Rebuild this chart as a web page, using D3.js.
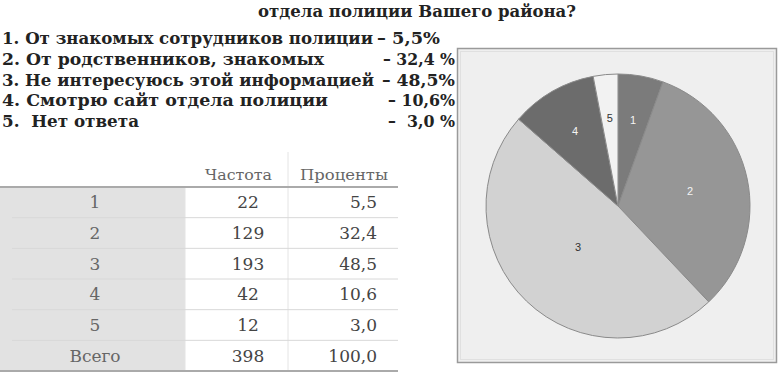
<!DOCTYPE html>
<html><head><meta charset="utf-8">
<script src="https://cdn.jsdelivr.net/npm/d3@7"></script>
<style>body{margin:0;background:#fff;}svg{display:block;}text{white-space:pre;}</style>
</head><body>
<svg id="c" width="779" height="375"></svg>
<script>
const title = "отдела полиции Вашего района?";
const categories = ["1", "2", "3", "4", "5"];
const answers = ["1. От знакомых сотрудников полиции", "2. От родственников, знакомых", "3. Не интересуюсь этой информацией", "4. Смотрю сайт отдела полиции", "5.  Нет ответа"];
const answerPct = ["– 5,5%", "– 32,4 %", "– 48,5%", "– 10,6%", "–  3,0 %"];
const frequencies = [22, 129, 193, 42, 12];
const percents = ["5,5", "32,4", "48,5", "10,6", "3,0"];
const totalLabel = "Всего";
const totalFreq = 398;
const totalPct = "100,0";
const headers = ["Частота", "Проценты"];
const sliceColors = ["#7b7b7b", "#969696", "#d2d2d2", "#6c6c6c", "#f2f2f2"];
const labelColors = ["#f4f4f4", "#f4f4f4", "#333", "#f4f4f4", "#333"];

const svg = d3.select("#c");
const serif = "'DejaVu Serif', 'Liberation Serif', serif";

// title
svg.append("text").attr("x", 417).attr("y", 17).attr("text-anchor", "middle")
  .attr("font-family", serif).attr("font-weight", "bold").attr("font-size", 17.5)
  .attr("fill", "#222").attr("textLength", 318).attr("lengthAdjust", "spacingAndGlyphs").text(title);

// answer list
const listY = d3.scalePoint().domain(categories).range([44, 127]);
const listW = [371, 322, 372, 326, 137];
const pctX = [377, 383, 382, 388, 388];
const pctEnd = [440, 455, 455, 455, 455];
answers.forEach((a, i) => {
  svg.append("text").attr("x", 2).attr("y", listY(categories[i]))
    .attr("font-family", serif).attr("font-weight", "bold").attr("font-size", 17)
    .attr("fill", "#222").attr("textLength", listW[i]).attr("lengthAdjust", "spacingAndGlyphs").text(a);
  svg.append("text").attr("x", pctX[i]).attr("y", listY(categories[i]))
    .attr("font-family", serif).attr("font-weight", "bold").attr("font-size", 17)
    .attr("fill", "#222").attr("textLength", pctEnd[i] - pctX[i]).attr("lengthAdjust", "spacingAndGlyphs").text(answerPct[i]);
});

// table
const rowLabels = categories.concat([totalLabel]);
const rowFreq = frequencies.concat([totalFreq]);
const rowPct = percents.concat([totalPct]);
const tTop = 187, tBot = 371;
const rowY = d3.scaleBand().domain(rowLabels).range([tTop, tBot]);
const tbl = svg.append("g");
tbl.append("rect").attr("x", 0).attr("y", tTop).attr("width", 185).attr("height", tBot - tTop).attr("fill", "#e2e2e2");
[[185, tTop], [288, 152]].forEach(([x, y0]) => {
  tbl.append("line").attr("x1", x).attr("x2", x).attr("y1", y0).attr("y2", tBot).attr("stroke", "#e4e4e4").attr("stroke-width", 1);
});
rowLabels.slice(1).forEach(r => {
  tbl.append("line").attr("x1", 12).attr("x2", 398).attr("y1", rowY(r)).attr("y2", rowY(r)).attr("stroke", "#d8d8d8").attr("stroke-width", 1);
});
tbl.append("line").attr("x1", 0).attr("x2", 398).attr("y1", tTop).attr("y2", tTop).attr("stroke", "#aaa").attr("stroke-width", 2);
tbl.append("line").attr("x1", 0).attr("x2", 398).attr("y1", tBot).attr("y2", tBot).attr("stroke", "#aaa").attr("stroke-width", 2);
tbl.append("text").attr("x", 205).attr("y", 180).attr("font-family", serif).attr("font-size", 15).attr("fill", "#666")
  .attr("textLength", 67).attr("lengthAdjust", "spacingAndGlyphs").text(headers[0]);
tbl.append("text").attr("x", 300).attr("y", 180).attr("font-family", serif).attr("font-size", 15).attr("fill", "#666")
  .attr("textLength", 88).attr("lengthAdjust", "spacingAndGlyphs").text(headers[1]);
rowLabels.forEach((r, i) => {
  const cy = rowY(r) + rowY.bandwidth() / 2 + 6;
  tbl.append("text").attr("x", 95).attr("y", cy).attr("text-anchor", "middle").attr("font-family", serif).attr("font-size", 17).attr("fill", "#666").text(r);
  tbl.append("text").attr("x", 248).attr("y", cy).attr("text-anchor", "middle").attr("font-family", serif).attr("font-size", 17).attr("fill", "#444").text(rowFreq[i]);
  tbl.append("text").attr("x", 377).attr("y", cy).attr("text-anchor", "end").attr("font-family", serif).attr("font-size", 17).attr("fill", "#444").text(rowPct[i]);
});

// pie panel
svg.append("rect").attr("x", 457.5).attr("y", 48.5).attr("width", 319).attr("height", 314)
  .attr("fill", "#efefef").attr("stroke", "#9a9a9a").attr("stroke-width", 1.5);
svg.append("rect").attr("x", 460.5).attr("y", 51.5).attr("width", 313).attr("height", 308)
  .attr("fill", "none").attr("stroke", "#e0e0e0").attr("stroke-width", 1);

const cx = 618, cy = 206, R = 132;
const pie = d3.pie().sort(null).value(d => d)(frequencies);
const arc = d3.arc().innerRadius(0).outerRadius(R);
const pg = svg.append("g").attr("transform", `translate(${cx},${cy})`);
pg.selectAll("path").data(pie).join("path").attr("d", arc)
  .attr("fill", (d, i) => sliceColors[i]).attr("stroke", "#8a8a8a").attr("stroke-width", 1);
pg.selectAll("text").data(pie).join("text")
  .attr("transform", d => {
    const th = d.endAngle - d.startAngle;
    const dist = 4 * R * Math.sin(th / 2) / (3 * th);
    const m = (d.startAngle + d.endAngle) / 2;
    return `translate(${Math.sin(m) * dist},${-Math.cos(m) * dist})`;
  })
  .attr("text-anchor", "middle").attr("dy", "0.35em")
  .attr("font-family", "'Liberation Sans', Arial, sans-serif").attr("font-size", 11)
  .attr("fill", (d, i) => labelColors[i]).text((d, i) => categories[i]);
</script>
</body></html>
